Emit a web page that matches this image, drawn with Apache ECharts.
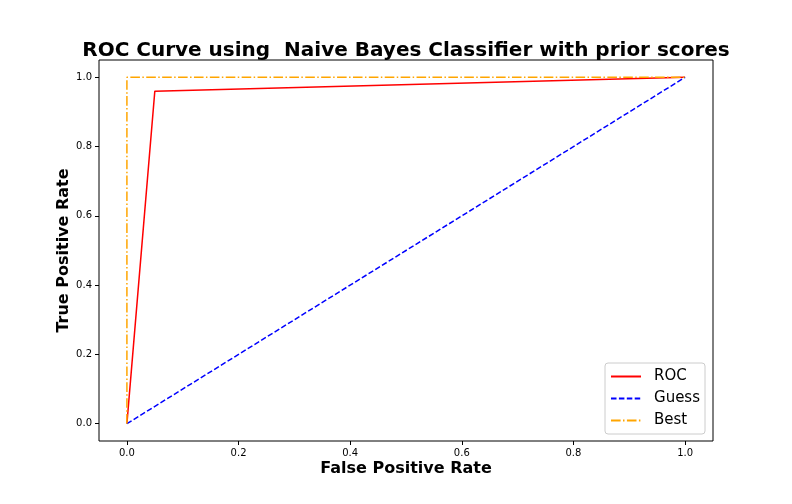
<!DOCTYPE html>
<html>
	<head>
		<meta charset="utf-8">
		<title>ROC</title>
		<style type="text/css">
			html, body { margin: 0; padding: 0; background: #fff; }
			#chart { width: 792px; height: 504px; }
		</style>
	</head>
	<body>
		<div id="chart"></div>
		<script src="https://cdn.jsdelivr.net/npm/echarts@6/dist/echarts.min.js"></script>
		<script type="text/javascript">
			// data
			var rocPoints = [[0, 0], [0.05, 0.96], [1, 1]];
			var guessPoints = [[0, 0], [1, 1]];
			var bestPoints = [[0, 0], [0, 1], [1, 1]];
			var tickValues = [0, 0.2, 0.4, 0.6, 0.8, 1.0];

			var chart = echarts.init(document.getElementById('chart'));

			function axis(name, gap) {
				return {
					type: 'value',
					min: -0.05,
					max: 1.05,
					name: name,
					nameLocation: 'middle',
					nameGap: gap,
					nameMoveOverlap: false,
					nameTextStyle: {
						fontFamily: 'DejaVu Sans',
						fontWeight: 'bold',
						fontSize: 16,
						color: '#000'
					},
					axisLine: { show: false, onZero: false },
					splitLine: { show: false },
					axisTick: {
						show: true,
						length: 4,
						customValues: tickValues,
						lineStyle: { color: '#000' }
					},
					axisLabel: {
						customValues: tickValues,
						fontFamily: 'DejaVu Sans',
						fontSize: 10,
						color: '#000',
						margin: 7,
						formatter: function(v) { return v.toFixed(1); }
					}
				};
			}

			var option = {
				animation: false,
				backgroundColor: '#fff',
				title: {
					text: 'ROC Curve using  Naive Bayes Classifier with prior scores',
					left: 401,
					textAlign: 'center',
					top: 36,
					textStyle: {
						fontFamily: 'DejaVu Sans',
						fontWeight: 'bold',
						fontSize: 20,
						color: '#000'
					}
				},
				grid: {
					left: 99,
					right: 79,
					top: 60,
					bottom: 63,
					show: true,
					borderColor: '#000',
					borderWidth: 1
				},
				xAxis: axis('False Positive Rate', 20),
				yAxis: axis('True Positive Rate', 27),
				legend: {
					orient: 'vertical',
					right: 87,
					bottom: 70,
					backgroundColor: '#fff',
					borderColor: '#ccc',
					borderWidth: 1,
					borderRadius: 3,
					padding: [6, 5, 6, 5],
					itemGap: 7,
					itemWidth: 30,
					itemHeight: 12,
					itemStyle: { opacity: 0 },
					textStyle: {
						fontFamily: 'DejaVu Sans',
						fontSize: 15,
						color: '#000',
						padding: [0, 0, 0, 8]
					},
					data: ['ROC', 'Guess', 'Best']
				},
				series: [{
					name: 'ROC',
					type: 'line',
					data: rocPoints,
					symbol: 'none',
					lineStyle: { color: 'red', width: 1.5 },
					itemStyle: { color: 'red' }
				}, {
					name: 'Guess',
					type: 'line',
					data: guessPoints,
					symbol: 'none',
					lineStyle: { color: 'blue', width: 1.5, type: [5.5, 2.4] },
					itemStyle: { color: 'blue' }
				}, {
					name: 'Best',
					type: 'line',
					data: bestPoints,
					symbol: 'none',
					lineStyle: { color: 'orange', width: 1.5, type: [9.6, 2.4, 1.5, 2.4] },
					itemStyle: { color: 'orange' }
				}]
			};

			chart.setOption(option);
		</script>
	</body>
</html>
